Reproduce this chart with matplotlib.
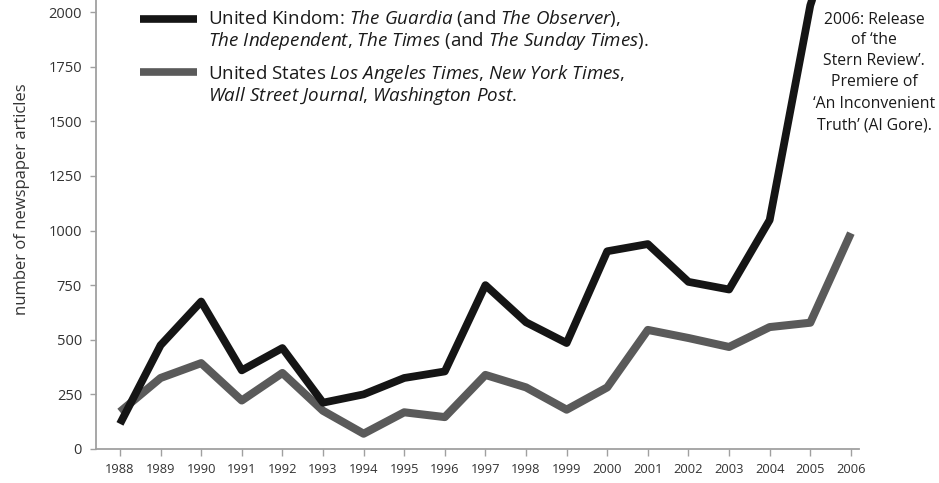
import matplotlib
matplotlib.use("Agg")
import matplotlib.pyplot as plt
from matplotlib import font_manager as fm
from matplotlib.lines import Line2D

# ---------------- data ----------------
years = list(range(1988, 2007))
uk_articles = [115, 475, 675, 360, 462, 212, 250, 325, 355, 750, 580, 485,
               905, 938, 765, 730, 1048, 2030, 2600]
us_articles = [170, 325, 393, 222, 348, 175, 70, 168, 146, 339, 282, 180,
               282, 545, 508, 467, 558, 578, 988]
y_ticks = [0, 250, 500, 750, 1000, 1250, 1500, 1750, 2000]
x_labels = [str(y) for y in years]

uk_label_lines = [
    r"United Kindom: $\mathit{The\ Guardia}$ (and $\mathit{The\ Observer}$),",
    r"$\mathit{The\ Independent}$, $\mathit{The\ Times}$ (and $\mathit{The\ Sunday\ Times}$).",
]
us_label_lines = [
    r"United States $\mathit{Los\ Angeles\ Times}$, $\mathit{New\ York\ Times}$,",
    r"$\mathit{Wall\ Street\ Journal}$, $\mathit{Washington\ Post}$.",
]
note_lines = ["2006: Release", "of \u2018the", "Stern Review\u2019.",
              "Premiere of", "\u2018An Inconvenient", "Truth\u2019 (Al Gore)."]


def pick_family(cands):
    names = {(f.name, f.style) for f in fm.fontManager.ttflist}
    for c in cands:
        if (c, "italic") in names and (c, "normal") in names:
            return c
    return "DejaVu Sans"


FAM = pick_family(["Open Sans", "Noto Sans", "Lato", "Liberation Sans", "DejaVu Sans"])
plt.rcParams["font.family"] = [FAM, "DejaVu Sans"]
plt.rcParams["mathtext.fontset"] = "custom"
plt.rcParams["mathtext.rm"] = FAM
plt.rcParams["mathtext.it"] = FAM + ":italic"
plt.rcParams["mathtext.bf"] = FAM + ":bold"

W, H = 939, 483
fig = plt.figure(figsize=(W / 100, H / 100), dpi=100)
ax = fig.add_axes([96 / W, 34 / H, (859 - 96) / W, 449 / H])

BLACK = "#151515"
GREY = "#5a5a5a"
ax.plot(years, uk_articles, color=BLACK, lw=5.6, solid_joinstyle="round",
        solid_capstyle="butt", zorder=3)
ax.plot(years, us_articles, color=GREY, lw=5.8, solid_joinstyle="round",
        solid_capstyle="butt", zorder=2)

ax.set_ylim(0, 2055)
ax.set_xlim(1987.41, 2006.2)
ax.set_yticks(y_ticks)
ax.set_yticklabels([str(v) for v in y_ticks])
ax.set_xticks(years)
ax.set_xticklabels(x_labels)

for s in ["top", "right"]:
    ax.spines[s].set_visible(False)
for s in ["left", "bottom"]:
    ax.spines[s].set_color("#a0a0a0")
    ax.spines[s].set_linewidth(1.3)

ax.tick_params(axis="y", direction="out", length=4, width=1, color="#a0a0a0",
               labelsize=10.5, labelcolor="#333333", pad=6)
ax.tick_params(axis="x", direction="out", length=5, width=1, color="#a0a0a0",
               labelsize=9.3, labelcolor="#333333", pad=5)

fig.text(22 / W, 1 - 199 / H, "number of newspaper articles", rotation=90,
         ha="center", va="center", fontsize=12, color="#333333")

# legend (manual)
fig.add_artist(Line2D([140 / W, 197 / W], [1 - 18.5 / H] * 2, lw=5.5,
                      color=BLACK, solid_capstyle="butt"))
fig.add_artist(Line2D([140 / W, 197 / W], [1 - 71.5 / H] * 2, lw=5.5,
                      color=GREY, solid_capstyle="butt"))
for txt, base in zip(uk_label_lines + us_label_lines, [24, 46, 79, 101]):
    fig.text(208 / W, 1 - base / H, txt, ha="left", va="baseline",
             fontsize=13.5, color="#1a1a1a")

# annotation
for txt, yc in zip(note_lines, [20, 40, 61, 82, 104, 125]):
    fig.text(874 / W, 1 - yc / H, txt, ha="center", va="center",
             fontsize=11.3, color="#1a1a1a")

fig.savefig("out.png", dpi=100)
